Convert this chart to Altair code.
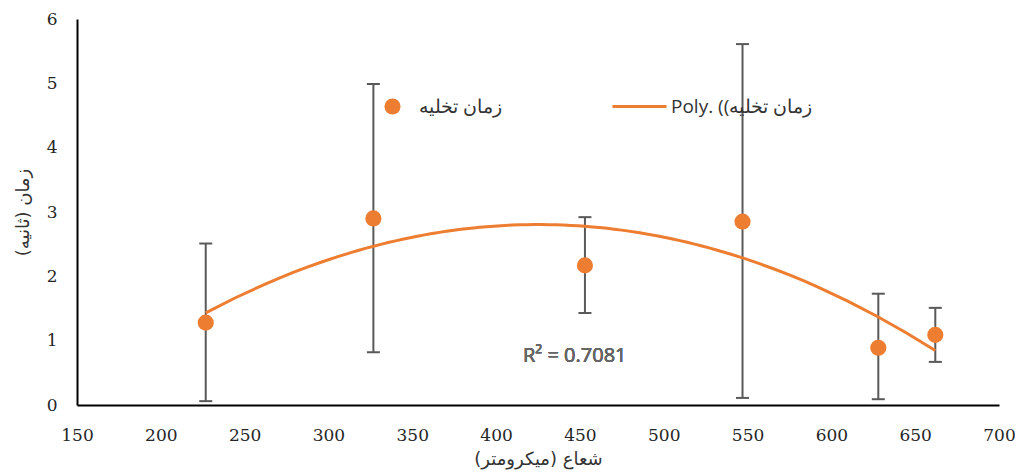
import altair as alt
import pandas as pd

# ---- data ----
radius = [226.8, 326.8, 453.0, 547.0, 628.0, 662.0]
drain_time = [1.28, 2.90, 2.17, 2.85, 0.89, 1.09]
err_low = [0.06, 0.82, 1.43, 0.11, 0.09, 0.67]
err_high = [2.51, 4.99, 2.92, 5.61, 1.73, 1.51]

x_ticks = list(range(150, 701, 50))
y_ticks = [0, 1, 2, 3, 4, 5, 6]

series_name = "زمان تخلیه"
trend_name = "Poly. ((زمان تخلیه"
x_title = "شعاع (میکرومتر)\u200f"
y_title = "زمان (ثانیه)\u200f"
r2_text = "R² = 0.7081"

ORANGE = "#ED7D31"
GREY = "#595959"

df = pd.DataFrame({
    "radius": radius,
    "time": drain_time,
    "lo": err_low,
    "hi": err_high,
    "series": [series_name] * len(radius),
})

base = alt.Chart(df)

x_scale = alt.Scale(domain=[150, 700], nice=False, zero=False)
y_scale = alt.Scale(domain=[0, 6], nice=False)

x_axis = alt.Axis(values=x_ticks, title=x_title, titlePadding=7, labelFlush=False)
y_axis = alt.Axis(values=y_ticks, title=y_title, titlePadding=14, labelFlush=False)


def xe():
    return alt.X("radius:Q", scale=x_scale, axis=x_axis)


rules = base.mark_rule(color=GREY, strokeWidth=2).encode(
    x=xe(),
    y=alt.Y("lo:Q", scale=y_scale, axis=y_axis),
    y2="hi:Q",
)
cap_hi = base.mark_tick(orient="horizontal", color=GREY, thickness=2, size=13, opacity=1).encode(
    x=xe(), y=alt.Y("hi:Q", scale=y_scale, axis=y_axis)
)
cap_lo = base.mark_tick(orient="horizontal", color=GREY, thickness=2, size=13, opacity=1).encode(
    x=xe(), y=alt.Y("lo:Q", scale=y_scale, axis=y_axis)
)

trend = (
    base.transform_regression("radius", "time", method="poly", order=2)
    .transform_calculate(s=f"'{trend_name}'")
    .mark_line(strokeWidth=3)
    .encode(
        x=xe(),
        y=alt.Y("time:Q", scale=y_scale, axis=y_axis),
        color=alt.Color(
            "s:N",
            scale=alt.Scale(domain=[trend_name], range=[ORANGE]),
            legend=alt.Legend(
                title=None, orient="none", legendX=534, legendY=59,
                symbolType="stroke", symbolSize=2916, symbolStrokeWidth=3,
                labelFont="Open Sans", labelFontSize=19, labelColor="#333333",
                labelOffset=3, padding=0,
            ),
        ),
    )
)

points = base.mark_circle(size=260, opacity=1).encode(
    x=xe(),
    y=alt.Y("time:Q", scale=y_scale, axis=y_axis),
    color=alt.Color(
        "series:N",
        scale=alt.Scale(domain=[series_name], range=[ORANGE]),
        legend=alt.Legend(
            title=None, orient="none", legendX=306, legendY=78,
            symbolType="circle", symbolSize=260, symbolOpacity=1,
            labelFont="Open Sans", labelFontSize=19, labelColor="#333333",
            labelOffset=17, padding=0,
        ),
    ),
)

r2 = base.mark_text(
    align="left", baseline="middle", fontSize=20, font="Open Sans", color="#666666"
).encode(x=alt.value(446), y=alt.value(337), text=alt.value(r2_text))

chart = (
    alt.layer(rules, cap_hi, cap_lo, trend, points, r2)
    .resolve_scale(color="independent")
    .properties(
        width=922,
        height=386,
        autosize=alt.AutoSizeParams(type="none"),
        padding={"left": 69, "top": 11, "right": 16, "bottom": 70},
    )
    .configure_view(stroke=None)
    .configure_axis(
        domainColor="black",
        domainWidth=2,
        ticks=False,
        grid=False,
        labelFont="DejaVu Serif",
        labelFontSize=17,
        labelColor="#262626",
        titleFont="DejaVu Sans",
        titleFontSize=18,
        titleFontWeight="normal",
        titleColor="#333333",
    )
    .configure_axisY(labelPadding=20)
    .configure_axisX(labelPadding=22)
)

chart.save("out.html", embed_options={"renderer": "svg", "actions": False})
